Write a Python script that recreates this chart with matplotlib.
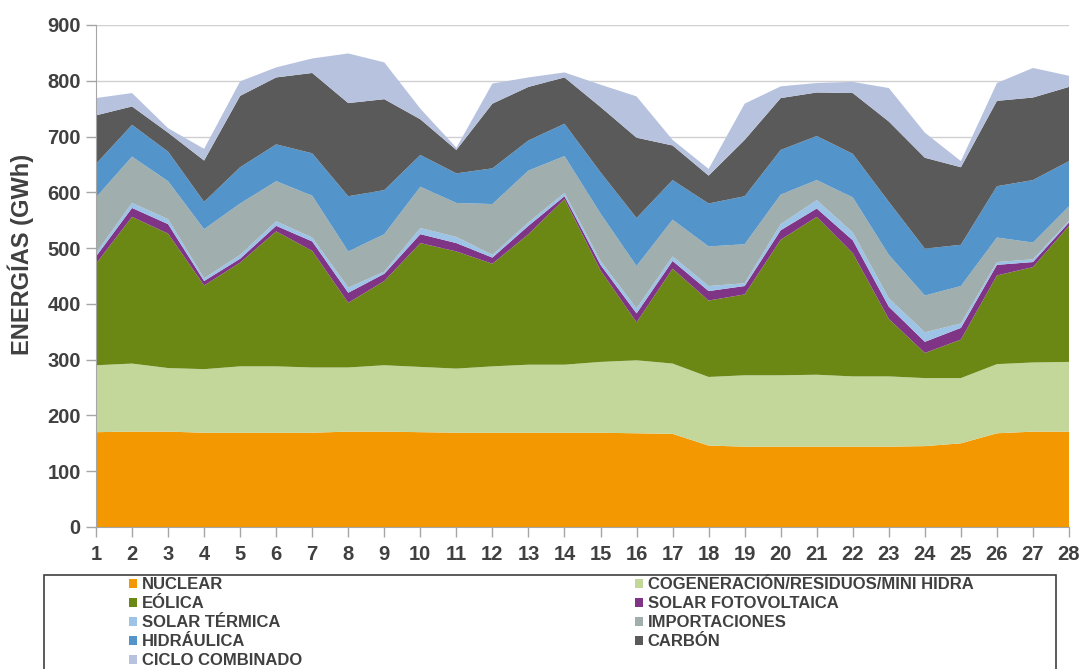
import numpy as np
import matplotlib
matplotlib.use("Agg")
import matplotlib.pyplot as plt
from matplotlib.patches import Rectangle, Patch

plt.rcParams['font.family'] = ['Liberation Sans', 'DejaVu Sans']

# days of the month
dias = list(range(1, 29))

# GWh per technology (stacked in this order)
nuclear = [170, 171, 171, 169, 169, 169, 169, 171, 171, 170, 169, 169, 169, 169,
           169, 168, 167, 146, 144, 144, 144, 144, 144, 145, 150, 168, 171, 171]
cogeneracion = [120, 122, 114, 114, 119, 119, 117, 115, 119, 117, 115, 119, 122, 122,
                127, 131, 126, 123, 128, 128, 129, 126, 126, 122, 117, 124, 124, 125]
eolica = [182, 263, 241, 150, 186, 242, 209, 116, 151, 222, 210, 184, 234, 297,
          164, 68, 170, 137, 145, 243, 283, 221, 103, 45, 69, 159, 171, 244]
solar_fv = [13, 16, 17, 8, 7, 10, 17, 18, 13, 16, 15, 11, 15, 5,
            10, 16, 14, 17, 15, 17, 15, 23, 22, 20, 21, 19, 9, 6]
solar_termica = [6, 9, 9, 5, 7, 8, 7, 9, 4, 11, 11, 5, 6, 6,
                 7, 9, 8, 9, 5, 11, 15, 14, 15, 17, 8, 5, 5, 3]
importaciones = [100, 83, 68, 88, 92, 72, 75, 65, 67, 74, 61, 91, 93, 66,
                 85, 76, 66, 71, 70, 53, 36, 63, 78, 66, 67, 44, 30, 26]
hidraulica = [60, 57, 53, 49, 65, 66, 76, 99, 79, 57, 53, 64, 54, 58,
              74, 86, 71, 77, 86, 80, 79, 78, 95, 84, 74, 92, 112, 81]
carbon = [87, 33, 34, 74, 128, 120, 144, 167, 163, 64, 42, 116, 96, 83,
          117, 144, 62, 50, 101, 93, 78, 109, 144, 163, 139, 153, 148, 133]
ciclo = [31, 24, 8, 21, 26, 18, 26, 89, 66, 19, 4, 36, 17, 9,
         40, 74, 10, 12, 65, 21, 17, 20, 60, 45, 11, 32, 53, 20]

series = [nuclear, cogeneracion, eolica, solar_fv, solar_termica,
          importaciones, hidraulica, carbon, ciclo]
nombres = ['NUCLEAR', 'COGENERACIÓN/RESIDUOS/MINI HIDRA', 'EÓLICA', 'SOLAR FOTOVOLTAICA',
           'SOLAR TÉRMICA', 'IMPORTACIONES', 'HIDRÁULICA', 'CARBÓN', 'CICLO COMBINADO']
colores = ['#F39800', '#C4D79B', '#6B8714', '#7F3486', '#9DC3E6',
           '#A0AEAD', '#5394CA', '#5A5A5A', '#B7C2DE']

txt = '#404040'
fig = plt.figure(figsize=(10.85, 6.69), dpi=100)
ax = fig.add_axes([96/1085, 1 - 527/669, (1069 - 96)/1085, (527 - 25)/669])

ax.stackplot(dias, *series, colors=colores, linewidth=0)

ax.set_xlim(1, 28)
ax.set_ylim(0, 900)
ax.set_xticks(dias)
ax.set_yticks(range(0, 901, 100))
ax.yaxis.grid(True, color='#D0D0D0', lw=1)
ax.set_axisbelow(True)
for s in ['top', 'right']:
    ax.spines[s].set_visible(False)
for s in ['left', 'bottom']:
    ax.spines[s].set_color('#A6A6A6')
ax.tick_params(axis='both', colors='#A6A6A6', labelcolor=txt, length=7, width=1,
               labelsize=14.5)
for lab in ax.get_xticklabels() + ax.get_yticklabels():
    lab.set_fontweight('bold')
ax.tick_params(axis='x', pad=6)
ax.tick_params(axis='y', pad=4)

fig.text(21/1085, 1 - 254/669, 'ENERGÍAS (GWh)', rotation=90, ha='center', va='center',
         fontsize=17, fontweight='bold', color=txt)

# legend, Excel style: two columns inside an open box
handles = [Patch(facecolor=c, edgecolor='none') for c in colores]
col1 = [0, 2, 4, 6, 8]
col2 = [1, 3, 5, 7]
for idx, x0 in [(col1, 129), (col2, 635)]:
    leg = fig.legend([handles[i] for i in idx], [nombres[i] for i in idx],
                     loc='upper left', bbox_to_anchor=(x0/1085, 1 - 577/669),
                     frameon=False, borderpad=0, borderaxespad=0,
                     handlelength=0.45, handleheight=0.45, handletextpad=0.3,
                     labelspacing=0.24, prop={'weight': 'bold', 'size': 12})
    for t in leg.get_texts():
        t.set_color(txt)
fig.patches.append(Rectangle((44/1085, -0.1), (1056 - 44)/1085, (669 - 575)/669 + 0.1,
                             transform=fig.transFigure, fill=False,
                             edgecolor='#404040', lw=1.2))

fig.savefig('out.png', dpi=100)
